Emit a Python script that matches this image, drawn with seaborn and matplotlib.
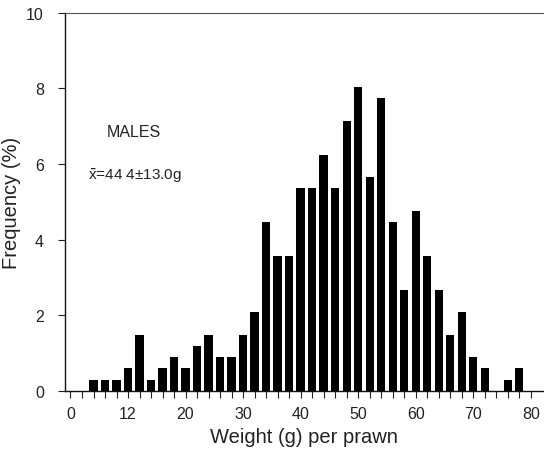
import matplotlib
matplotlib.use("Agg")
import matplotlib.pyplot as plt
import seaborn as sns
import pandas as pd

# weight class midpoints (g) and frequency (%)
weights = [4, 6, 8, 10, 12, 14, 16, 18, 20, 22, 24, 26, 28, 30, 32, 34, 36, 38,
           40, 42, 44, 46, 48, 50, 52, 54, 56, 58, 60, 62, 64, 66, 68, 70, 72, 76, 78]
freq = [0.30, 0.30, 0.30, 0.60, 1.49, 0.30, 0.60, 0.89, 0.60, 1.19, 1.49, 0.89,
        0.89, 1.49, 2.08, 4.46, 3.57, 3.57, 5.36, 5.36, 6.25, 5.36, 7.14, 8.04,
        5.65, 7.74, 4.46, 2.68, 4.76, 3.57, 2.68, 1.49, 2.08, 0.89, 0.60, 0.30, 0.60]

xtick_pos = [0, 10, 20, 30, 40, 50, 60, 70, 80]
xtick_labels = ["0", "12", "20", "30", "40", "50", "60", "70", "80"]
ytick_pos = [0, 2, 4, 6, 8, 10]

df = pd.DataFrame({"weight": weights, "freq": freq})

sns.set_style("white")
plt.rcParams['font.family'] = ['Liberation Sans', 'DejaVu Sans']

fig = plt.figure(figsize=(5.44, 4.6), dpi=100)
ax = fig.add_axes([0.119, 0.148, 0.881, 0.822])

sns.barplot(data=df, x="weight", y="freq", native_scale=True, color="black",
            width=0.72, saturation=1, edgecolor="black", linewidth=0, ax=ax)

ax.set_xlim(-1, 82.3)
ax.set_ylim(0, 10)
ax.set_xticks(xtick_pos)
ax.set_xticklabels(xtick_labels)
ax.set_xticks(range(0, 82, 2), minor=True)
ax.set_yticks(ytick_pos)
ax.tick_params(axis="x", which="both", bottom=True, direction="out", length=5,
               width=0.8, labelsize=11.5, pad=6, colors="#222222")
ax.tick_params(axis="y", left=True, direction="out", length=5, width=0.8,
               labelsize=11.5, pad=10, colors="#222222")

for s in ["left", "bottom"]:
    ax.spines[s].set_color("#111111")
    ax.spines[s].set_linewidth(1.0)
ax.spines["top"].set_color("#555555")
ax.spines["top"].set_linewidth(0.8)
ax.spines["right"].set_visible(False)

ax.set_xlabel("Weight (g) per prawn", fontsize=14.5, labelpad=4, color="#222222")
ax.set_ylabel("Frequency (%)", fontsize=14.5, labelpad=4, color="#222222")

ax.text(6.3, 6.75, "MALES", fontsize=11.5, color="#222222")
ax.text(3.0, 5.6, r"$\bar{\mathregular{x}}$=44 4±13.0g", fontsize=11, color="#222222")

fig.savefig("out.png", dpi=100)
